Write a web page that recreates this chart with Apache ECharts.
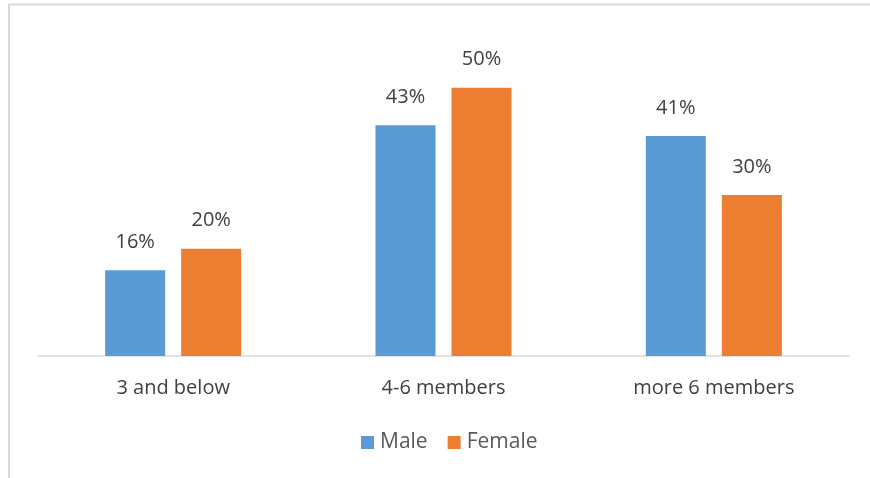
<!DOCTYPE html>
<html>
<head>
<meta charset="utf-8">
<script src="https://cdn.jsdelivr.net/npm/echarts@6/dist/echarts.min.js"></script>
<style>html,body{margin:0;padding:0;background:#fff}#c{width:870px;height:478px}</style>
</head>
<body>
<div id="c"></div>
<script>
var categories = ['3 and below', '4-6 members', 'more 6 members'];
var maleValues = [16, 43, 41];
var femaleValues = [20, 50, 30];
var seriesNames = ['Male', 'Female'];

var chart = echarts.init(document.getElementById('c'));
var font = '"Open Sans", "Liberation Sans", sans-serif';
var labelCfg = {
  show: true, position: 'top', distance: 18,
  formatter: function (p) { return p.value + '%'; },
  color: '#404040', fontSize: 20, fontFamily: font
};
chart.setOption({
  animation: false,
  graphic: [
    {type: 'line', shape: {x1: 8, y1: 4.5, x2: 870, y2: 4.5}, style: {stroke: '#d9d9d9', lineWidth: 2}},
    {type: 'line', shape: {x1: 9, y1: 4, x2: 9, y2: 478}, style: {stroke: '#d9d9d9', lineWidth: 2}}
  ],
  grid: {left: 38, right: 21, top: 34, bottom: 122},
  legend: {
    data: seriesNames, bottom: 20, left: 356, itemWidth: 13, itemHeight: 13, itemGap: 20,
    icon: 'rect',
    textStyle: {color: '#595959', fontSize: 21, fontFamily: font, padding: [0, 0, 0, 1]}
  },
  xAxis: {
    type: 'category', data: categories,
    axisLine: {lineStyle: {color: '#d9d9d9', width: 1.5}},
    axisTick: {show: false},
    axisLabel: {color: '#404040', fontSize: 20, fontFamily: font, margin: 22}
  },
  yAxis: {type: 'value', min: 0, max: 60, show: false, splitLine: {show: false}},
  series: [
    {name: seriesNames[0], type: 'bar', data: maleValues, barWidth: 60, barGap: '26.7%',
     itemStyle: {color: '#5b9bd5'}, label: labelCfg},
    {name: seriesNames[1], type: 'bar', data: femaleValues, barWidth: 60,
     itemStyle: {color: '#ed7d31'}, label: labelCfg}
  ]
});
</script>
</body>
</html>
